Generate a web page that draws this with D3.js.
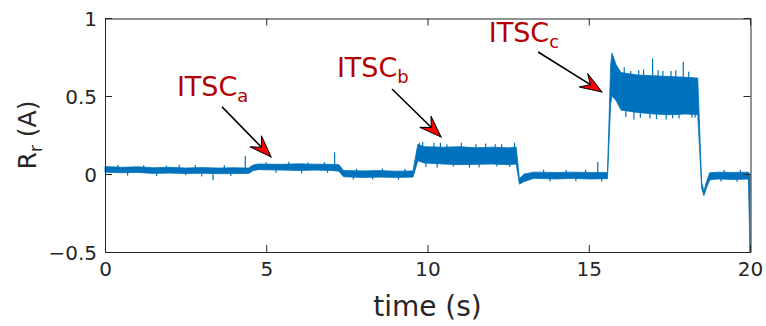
<!DOCTYPE html>
<html>
<head>
<meta charset="utf-8">
<script src="https://cdn.jsdelivr.net/npm/d3@7"></script>
<style>
  body { margin: 0; background: #fff; }
  text { font-family: "DejaVu Sans", Verdana, sans-serif; }
</style>
</head>
<body>
<div id="chart"></div>
<script>
// signal envelope (time in s, current in A)
const bandTime = [0, 0.5, 1, 1.5, 2, 2.5, 3, 3.5, 4, 4.45, 4.6, 4.75, 5.5, 6, 6.5, 7, 7.25,
  7.4, 8, 8.5, 9, 9.55, 9.7, 9.9, 10.5, 11, 11.5, 12, 12.5, 12.75,
  12.85, 13, 13.3, 14, 14.5, 15, 15.58, 15.68, 15.72, 15.85, 16, 16.5, 17, 17.5, 18, 18.38,
  18.5, 18.57, 18.65, 18.75, 19, 19.5, 19.95, 20];
const bandHigh = [0.048, 0.043, 0.046, 0.040, 0.043, 0.038, 0.041, 0.038, 0.040, 0.038, 0.058, 0.064, 0.062, 0.065, 0.063, 0.062, 0.060,
  0.022, 0.020, 0.022, 0.018, 0.020, 0.190, 0.175, 0.172, 0.175, 0.168, 0.172, 0.168, 0.172,
  -0.030, 0.000, 0.012, 0.010, 0.012, 0.010, 0.010, 0.700, 0.775, 0.700, 0.650, 0.635, 0.630, 0.625, 0.620, 0.615,
  -0.050, -0.110, -0.050, 0.008, 0.012, 0.010, 0.012, 0.000];
const bandLow = [0.012, 0.008, 0.010, 0.004, 0.006, 0.003, 0.005, 0.002, 0.003, 0.003, 0.022, 0.028, 0.025, 0.023, 0.025, 0.023, 0.018,
  -0.018, -0.022, -0.020, -0.022, -0.020, 0.085, 0.070, 0.064, 0.060, 0.062, 0.064, 0.060, 0.064,
  -0.065, -0.048, -0.028, -0.032, -0.028, -0.032, -0.030, 0.450, 0.500, 0.470, 0.410, 0.395, 0.385, 0.380, 0.385, 0.380,
  -0.090, -0.140, -0.090, -0.038, -0.032, -0.035, -0.032, -0.500];

// single-sample spikes (time, peak)
const spikeTime = [4.35, 7.12, 15.28, 16.98, 17.93,
  0.4, 1.2, 1.9, 2.3, 2.8, 3.7, 0.7, 1.6, 2.5, 3.0, 3.35, 3.9,
  5.0, 5.7, 6.3, 6.8, 5.3, 6.1, 6.9,
  7.8, 8.6, 9.3, 7.7, 8.3, 9.1,
  9.75, 9.85, 10.2, 10.4, 10.6, 11.05, 11.5, 11.8, 12.1, 12.3, 12.7,
  9.95, 10.3, 10.8, 11.3, 11.6, 12.15, 12.55,
  13.6, 14.3, 14.9, 13.8, 14.6, 15.4,
  16.1, 16.3, 16.55, 16.7, 17.15, 17.3, 17.55, 17.7, 18.1,
  16.15, 16.4, 16.6, 16.9, 17.1, 17.4, 17.6, 17.8, 18.2, 18.3,
  19.2, 19.7, 19.1, 19.6];
const spikePeak = [0.115, 0.14, 0.077, 0.74, 0.72,
  0.058, 0.056, 0.055, 0.06, 0.058, 0.056, -0.01, -0.013, -0.008, -0.016, -0.04, -0.013,
  0.076, 0.078, 0.074, 0.076, 0.008, 0.004, 0.008,
  0.033, 0.036, 0.033, -0.036, -0.035, -0.037,
  0.20, 0.205, 0.20, 0.2, 0.19, 0.20, 0.19, 0.195, 0.19, 0.19, 0.20,
  0.045, 0.042, 0.048, 0.04, 0.042, 0.048, 0.045,
  0.028, 0.026, 0.028, -0.048, -0.046, -0.048,
  0.685, 0.66, 0.665, 0.67, 0.665, 0.66, 0.66, 0.665, 0.655,
  0.365, 0.35, 0.36, 0.355, 0.352, 0.35, 0.358, 0.355, 0.36, 0.362,
  0.026, 0.028, -0.048, -0.05];

const xTicks = [0, 5, 10, 15, 20];
const yTicks = [-0.5, 0, 0.5, 1];

// annotations: label anchor and arrow start/tip, in data units
const labelMain = ['ITSC', 'ITSC', 'ITSC'];
const labelSub = ['a', 'b', 'c'];
const labelT = [2.23, 7.19, 11.9];
const labelV = [0.5, 0.62, 0.846];
const arrowFromT = [3.63, 8.9, 13.43];
const arrowFromV = [0.43, 0.545, 0.782];
const arrowToT = [5.15, 10.42, 15.41];
const arrowToV = [0.109, 0.237, 0.526];

const W = 766, H = 326;
const margin = { left: 105, right: 16, top: 18, bottom: 74 };
const lineColor = '#0072bd';
const axisColor = '#262626';

const svg = d3.select('#chart').append('svg')
  .attr('width', W).attr('height', H);

const x = d3.scaleLinear().domain([0, 20]).range([margin.left, W - margin.right]);
const y = d3.scaleLinear().domain([-0.5, 1]).range([H - margin.bottom, margin.top]);

// signal band
const band = bandTime.map((t, i) => ({ t: t, hi: bandHigh[i], lo: bandLow[i] }));
const area = d3.area()
  .x(d => x(d.t))
  .y0(d => y(d.lo))
  .y1(d => y(d.hi));
svg.append('path')
  .datum(band)
  .attr('d', area)
  .attr('fill', lineColor)
  .attr('stroke', lineColor)
  .attr('stroke-width', 0.8);

// spikes start from middle of band
const mid = d3.scaleLinear().domain(bandTime).range(bandTime.map((t, i) => (bandHigh[i] + bandLow[i]) / 2));
svg.append('g')
  .selectAll('line')
  .data(spikeTime.map((t, i) => ({ t: t, v: spikePeak[i] })))
  .enter()
  .append('line')
  .attr('x1', d => x(d.t))
  .attr('x2', d => x(d.t))
  .attr('y1', d => y(mid(d.t)))
  .attr('y2', d => y(d.v))
  .attr('stroke', lineColor)
  .attr('stroke-width', 1.2);

// axes, ticks pointing inward
const x0 = x(0), x1 = x(20), y0 = y(-0.5), y1 = y(1);
const tickLen = 7;

const bottomAxis = svg.append('g')
  .attr('transform', 'translate(0,' + y0 + ')')
  .call(d3.axisBottom(x).tickValues(xTicks).tickFormat(d3.format('d'))
    .tickSizeInner(-tickLen).tickSizeOuter(0).tickPadding(10));
const leftAxis = svg.append('g')
  .attr('transform', 'translate(' + x0 + ',0)')
  .call(d3.axisLeft(y).tickValues(yTicks).tickFormat(d => d === 0 ? '0' : d3.format('.1~f')(d))
    .tickSizeInner(-tickLen).tickSizeOuter(0).tickPadding(8));
const topAxis = svg.append('g')
  .attr('transform', 'translate(0,' + (y1 + 0.5) + ')')
  .call(d3.axisTop(x).tickValues(xTicks).tickFormat('')
    .tickSizeInner(-tickLen).tickSizeOuter(0));
const rightAxis = svg.append('g')
  .attr('transform', 'translate(' + (x1 + 0.5) + ',0)')
  .call(d3.axisRight(y).tickValues(yTicks).tickFormat('')
    .tickSizeInner(-tickLen).tickSizeOuter(0));

[bottomAxis, leftAxis, topAxis, rightAxis].forEach(g => {
  g.select('.domain').attr('stroke', axisColor);
  g.selectAll('.tick line').attr('stroke', axisColor);
  g.selectAll('.tick text')
    .attr('fill', axisColor)
    .style('font-size', '20px')
    .style('font-family', '"DejaVu Sans", sans-serif');
});
leftAxis.selectAll('.tick text').attr('dy', '0.36em');

// axis labels
svg.append('text')
  .attr('x', (x0 + x1) / 2)
  .attr('y', H - 10)
  .attr('text-anchor', 'middle')
  .attr('fill', axisColor)
  .style('font-size', '28px')
  .text('time (s)');

const yLab = svg.append('text')
  .attr('transform', 'translate(36,' + ((y0 + y1) / 2) + ') rotate(-90)')
  .attr('text-anchor', 'middle')
  .attr('fill', axisColor)
  .style('font-size', '25px');
yLab.append('tspan').text('R');
yLab.append('tspan').attr('dy', 6).style('font-size', '17px').text('r');
yLab.append('tspan').attr('dy', -6).text(' (A)');

// annotation labels
const labelColor = '#b30000';
labelMain.forEach((m, i) => {
  const t = svg.append('text')
    .attr('x', x(labelT[i]))
    .attr('y', y(labelV[i]))
    .attr('fill', labelColor)
    .style('font-size', '27px');
  t.append('tspan').text(m);
  t.append('tspan').attr('dy', 6).style('font-size', '18px').text(labelSub[i]);
});

// arrows: black shaft with red vback2-style head
const headLen = 22, headHalf = 8;
arrowFromT.forEach((t, i) => {
  const ax = x(t), ay = y(arrowFromV[i]);
  const bx = x(arrowToT[i]), by = y(arrowToV[i]);
  const ang = Math.atan2(by - ay, bx - ax);
  const g = svg.append('g')
    .attr('transform', 'translate(' + bx + ',' + by + ') rotate(' + (ang * 180 / Math.PI) + ')');
  const len = Math.hypot(bx - ax, by - ay);
  g.append('line')
    .attr('x1', -len).attr('y1', 0)
    .attr('x2', -headLen * 0.6).attr('y2', 0)
    .attr('stroke', '#000')
    .attr('stroke-width', 1.6);
  g.append('path')
    .attr('d', 'M0,0 L' + (-headLen) + ',' + (-headHalf) + ' L' + (-headLen * 0.62) + ',0 L' + (-headLen) + ',' + headHalf + ' Z')
    .attr('fill', '#ff0000')
    .attr('stroke', '#000')
    .attr('stroke-width', 1)
    .attr('stroke-linejoin', 'miter');
});
</script>
</body>
</html>
